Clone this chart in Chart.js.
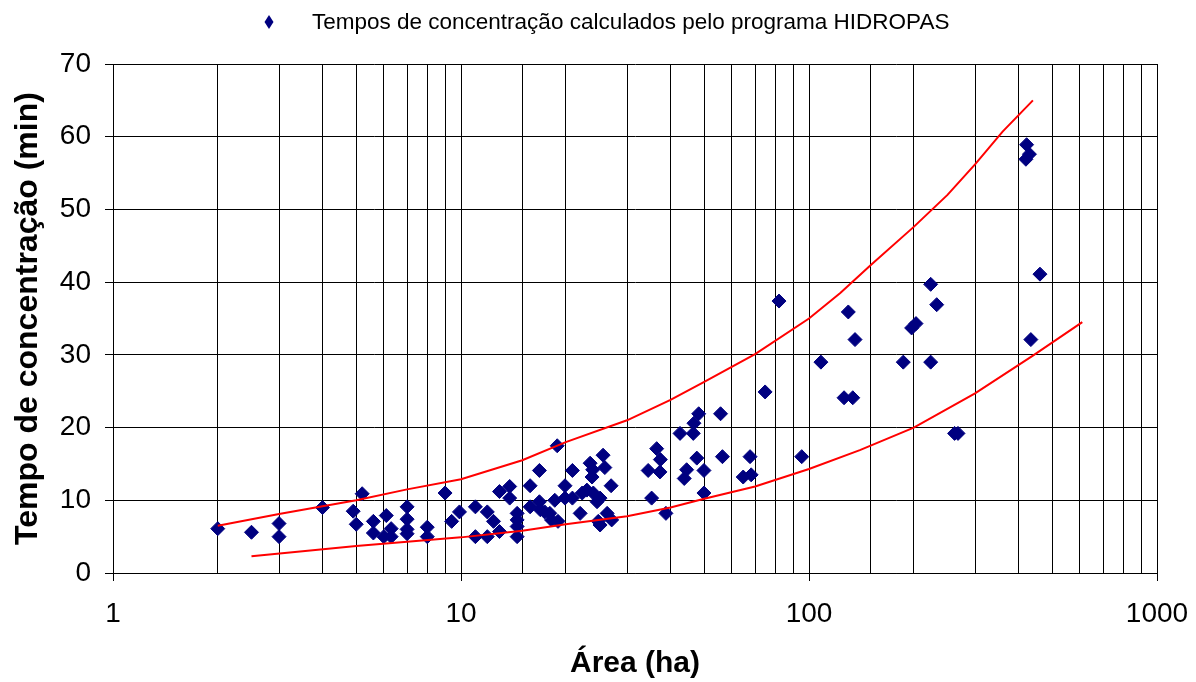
<!DOCTYPE html>
<html lang="pt">
<head>
<meta charset="utf-8">
<title>Tempo de concentração x Área</title>
<script src="https://cdn.jsdelivr.net/npm/chart.js@4.4.1/dist/chart.umd.min.js"></script>
<style>
  html, body { margin: 0; padding: 0; background: #fff; }
</style>
</head>
<body>
<canvas id="grafico" width="1196" height="682"></canvas>
<script>
const FONTE = '"Liberation Sans", Arial, sans-serif';
const LEGENDA = "Tempos de concentração calculados pelo programa HIDROPAS";

// bacias: área (ha) e tempo de concentração (min)
const AREAS = [
  2.0, 2.5, 3.0, 3.0, 4.0, 4.9, 5.0, 5.2, 5.6, 5.6, 6.0, 6.1, 6.3, 6.3,
  7.0, 7.0, 7.0, 7.0, 8.0, 8.0, 9.0, 9.4, 9.9,
  11.0, 11.0, 11.9, 11.9, 12.4, 12.9, 12.9, 13.8, 13.8, 14.5, 14.5, 14.5, 14.5,
  15.8, 15.8, 16.8, 16.8, 16.9, 17.4, 18.0, 18.2, 18.6, 18.9, 19.0, 19.9, 19.9,
  20.9, 20.9, 22.0, 22.3, 23.0, 23.5, 23.8, 23.9, 24.0, 24.6, 24.8, 25.1, 25.1,
  25.6, 25.9, 26.3, 27.0, 27.1,
  34.5, 35.3, 36.5, 37.4, 37.3, 38.8, 42.6, 43.8, 44.5, 46.5, 46.7, 48.2, 47.6,
  49.9, 49.9, 55.7, 56.4, 64.7, 67.7, 68.2, 74.8, 82.0, 95.3,
  108.2, 126.1, 129.7, 133.6, 135.6, 186.6, 197.2, 203, 223.7, 223.7, 232.8,
  262, 268, 422, 430, 420, 434, 461
];
const TEMPOS = [
  6.1, 5.6, 6.8, 5.0, 9.0, 8.5, 6.7, 10.9, 7.1, 5.5, 5.0, 7.9, 6.1, 5.0,
  9.1, 7.4, 6.0, 5.4, 6.3, 5.0, 11.0, 7.1, 8.4,
  9.1, 5.0, 8.4, 5.0, 7.1, 5.7, 11.2, 11.9, 10.3, 8.2, 7.3, 6.4, 5.0,
  12.0, 9.1, 14.1, 9.8, 8.7, 8.4, 8.2, 7.3, 10.0, 17.5, 7.1, 12.0, 10.3,
  14.1, 10.3, 8.2, 11.0, 11.4, 15.1, 13.2, 14.2, 11.0, 9.8, 7.1, 10.3, 6.6,
  16.2, 14.5, 8.2, 12.0, 7.3,
  14.1, 10.3, 17.1, 15.6, 13.9, 8.2, 19.2, 13.0, 14.2, 19.2, 20.6, 21.9, 15.8,
  14.1, 11.0, 21.9, 16.0, 13.2, 16.0, 13.5, 24.9, 37.4, 16.0,
  29.0, 24.1, 35.9, 24.1, 32.1, 29.0, 33.7, 34.3, 39.7, 29.0, 36.9,
  19.2, 19.2, 58.9, 57.6, 56.9, 32.1, 41.1
];

// curva limite superior
const SUP_AREA = [2, 3, 5, 7, 10, 15, 20, 30, 40, 50, 70, 100, 123, 150, 200, 250, 300, 360, 440];
const SUP_TEMPO = [6.5, 8.1, 10.0, 11.5, 12.9, 15.5, 18.0, 21.0, 23.8, 26.3, 30.1, 35.0, 38.5, 42.3, 47.6, 52.0, 56.2, 60.7, 65.0];

// curva limite inferior
const INF_AREA = [2.5, 5, 7, 10, 15, 20, 30, 40, 50, 70, 100, 140, 200, 300, 440, 610];
const INF_TEMPO = [2.3, 3.7, 4.3, 4.9, 5.8, 6.7, 7.8, 9.0, 10.2, 11.9, 14.3, 16.9, 20.0, 24.7, 29.9, 34.5];

const X_ROTULOS = [1, 10, 100, 1000];
const Y_MIN = 0, Y_MAX = 70, Y_PASSO = 10;

function pares(xs, ys) {
  return xs.map((x, i) => ({ x: x, y: ys[i] }));
}

// legenda desenhada acima da área do gráfico
const legendaTopo = {
  id: "legendaTopo",
  afterDraw(chart) {
    const ctx = chart.ctx;
    const cy = 22;
    ctx.save();
    ctx.fillStyle = "#000080";
    ctx.beginPath();
    ctx.moveTo(269, cy - 7);
    ctx.lineTo(273.5, cy);
    ctx.lineTo(269, cy + 7);
    ctx.lineTo(264.5, cy);
    ctx.closePath();
    ctx.fill();
    ctx.fillStyle = "#000";
    ctx.font = "22.5px " + FONTE;
    ctx.textBaseline = "middle";
    ctx.textAlign = "left";
    ctx.fillText(LEGENDA, 312, cy + 1);
    ctx.restore();
  },
};

const ctx = document.getElementById("grafico").getContext("2d");
new Chart(ctx, {
  type: "scatter",
  data: {
    datasets: [
      {
        label: "Limite superior",
        data: pares(SUP_AREA, SUP_TEMPO),
        showLine: true,
        borderColor: "#ff0000",
        borderWidth: 2,
        pointRadius: 0,
        order: 0,
      },
      {
        label: "Limite inferior",
        data: pares(INF_AREA, INF_TEMPO),
        showLine: true,
        borderColor: "#ff0000",
        borderWidth: 2,
        pointRadius: 0,
        order: 0,
      },
      {
        label: LEGENDA,
        data: pares(AREAS, TEMPOS),
        pointStyle: "rectRot",
        pointRadius: 7,
        borderWidth: 1,
        backgroundColor: "#000080",
        borderColor: "#000080",
        order: 1,
      },
    ],
  },
  options: {
    responsive: false,
    devicePixelRatio: 1,
    animation: false,
    layout: { padding: { left: 0, right: 39, top: 64, bottom: 0 } },
    plugins: {
      legend: { display: false },
      tooltip: { enabled: false },
    },
    scales: {
      x: {
        type: "logarithmic",
        min: 1,
        max: 1000,
        // rótulos das pontas não empurram a área do gráfico
        afterFit: (s) => { s.height = 109; s.paddingLeft = 0; s.paddingRight = 0; },
        border: { color: "#000", width: 1 },
        grid: {
          color: "#000",
          lineWidth: 1,
          tickLength: 8,
          tickColor: (c) => (X_ROTULOS.includes(c.tick && c.tick.value) ? "#000" : "rgba(0,0,0,0)"),
        },
        ticks: {
          autoSkip: false,
          maxRotation: 0,
          padding: 16,
          color: "#000",
          font: { family: FONTE, size: 28 },
          callback: (v) => (X_ROTULOS.includes(v) ? String(v) : ""),
        },
        title: {
          display: true,
          text: "Área (ha)",
          color: "#000",
          padding: { top: 0, bottom: 0 },
          font: { family: FONTE, size: 30, weight: "bold" },
        },
      },
      y: {
        min: Y_MIN,
        max: Y_MAX,
        afterFit: (s) => { s.width = 113; s.paddingTop = 0; s.paddingBottom = 0; },
        border: { color: "#000", width: 1 },
        grid: { color: "#000", lineWidth: 1, tickLength: 8, tickColor: "#000" },
        ticks: {
          stepSize: Y_PASSO,
          padding: 14,
          color: "#000",
          font: { family: FONTE, size: 28 },
        },
        title: {
          display: true,
          text: "Tempo de concentração (min)",
          color: "#000",
          padding: { top: 9, bottom: 0 },
          font: { family: FONTE, size: 32, weight: "bold" },
        },
      },
    },
  },
  plugins: [legendaTopo],
});
</script>
</body>
</html>
